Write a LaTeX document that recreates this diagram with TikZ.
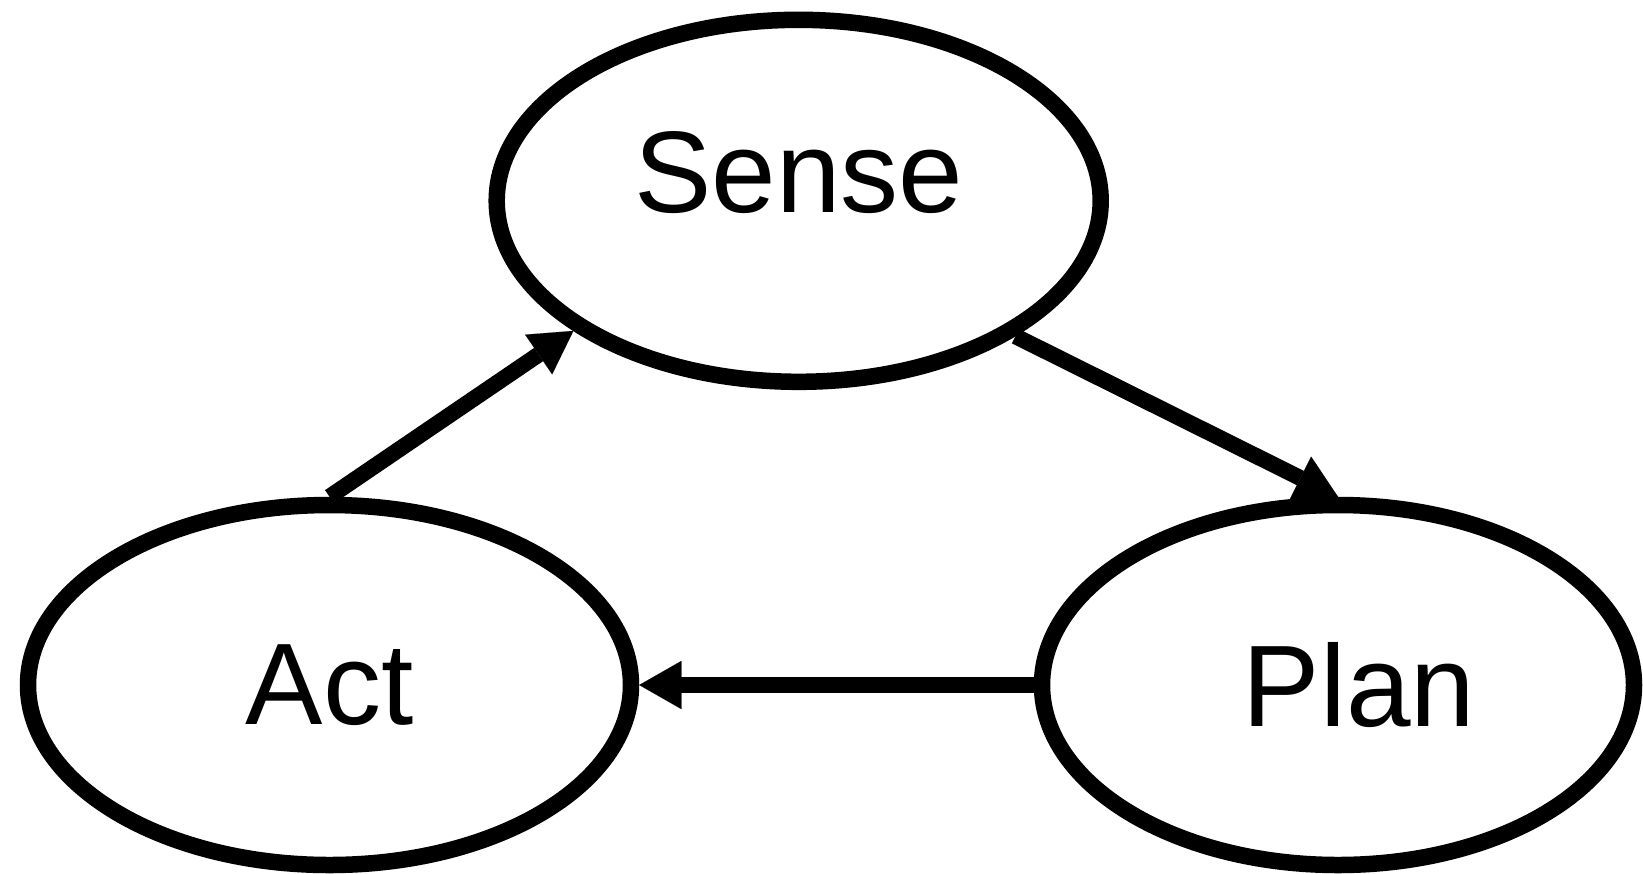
\documentclass[tikz,border=0pt]{standalone}
\usepackage{fontspec}
\setmainfont{Liberation Sans}
\usetikzlibrary{shapes.geometric,arrows.meta}
\begin{document}
\begin{tikzpicture}[x=1pt,y=-1pt,
  stage/.style={ellipse, draw=black, line width=16.5pt, inner sep=0pt,
    font=\fontsize{116}{130}\selectfont},
  label text/.style={inner sep=0pt, font=\fontsize{116}{130}\selectfont},
  flow/.style={line width=16pt, -{Triangle[length=42pt,width=48pt,line width=0.01pt]}}]
\useasboundingbox (0,0) rectangle (1643,873);
\node[stage, minimum width=604pt, minimum height=362pt] (sense) at (798.7,200.8) {};
\node[label text] (sensetext) at ([yshift=28pt]sense.center) {Sense};
\node[stage, minimum width=603pt, minimum height=360pt] (act) at (329.5,685) {Act};
\node[stage, minimum width=592pt, minimum height=360pt] (plan) at (1338,685) {};
\node[label text] (plantext) at ([xshift=21pt]plan.center) {Plan};
\draw[flow] (act.north) -- (sense.-150);
\draw[flow] (sense.-32) -- (plan.north);
\draw[flow] (plan.west) -- (act.east);
\end{tikzpicture}
\end{document}
